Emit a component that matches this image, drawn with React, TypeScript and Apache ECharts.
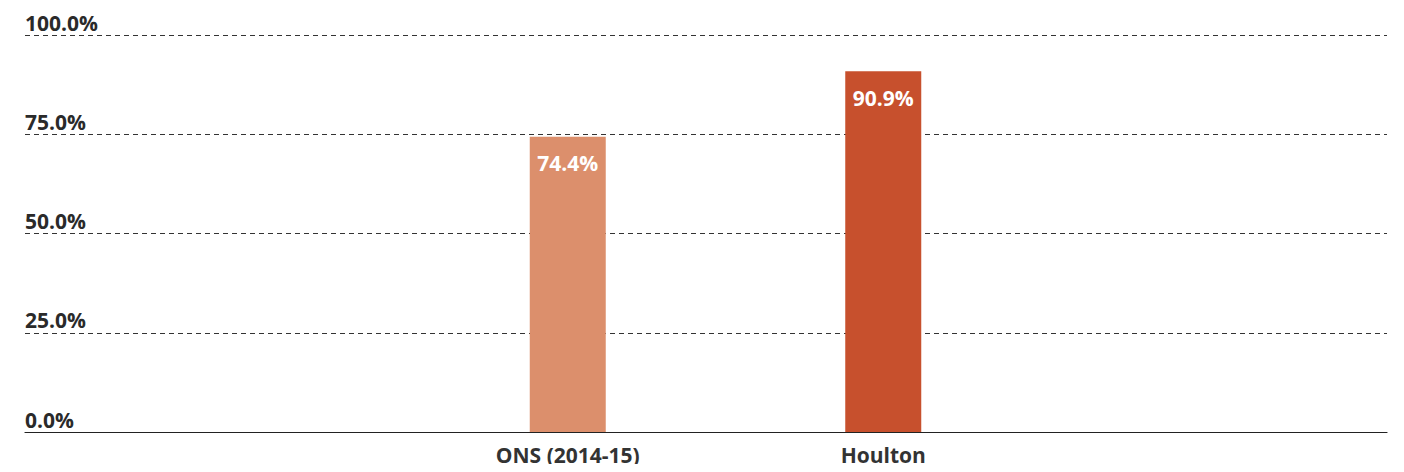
import React, { useEffect, useRef } from "react";
import * as echarts from "echarts";

const categories = ["ONS (2014-15)", "Houlton"];
const values = [74.4, 90.9];
const barColors = ["#DC8F6C", "#C7502D"];
const yTicks = [0, 25, 50, 75, 100];

const FONT = "'Open Sans', 'Noto Sans', sans-serif";

export default function App() {
  const ref = useRef<HTMLDivElement>(null);
  useEffect(() => {
    if (!ref.current) return;
    const chart = echarts.init(ref.current, undefined, { renderer: "svg" });
    chart.setOption({
      animation: false,
      grid: [
        { left: 25, right: 17, top: 35, bottom: 40 },
        { left: 410, right: 363, top: 35, bottom: 40 },
      ],
      xAxis: [
        {
          gridIndex: 0,
          type: "category",
          data: [""],
          axisLine: { show: true, lineStyle: { color: "#222", width: 1.2 } },
          axisTick: { show: false },
          axisLabel: { show: false },
        },
        {
          gridIndex: 1,
          type: "category",
          data: categories,
          axisLine: { show: false },
          axisTick: { show: false },
          axisLabel: {
            color: "#333",
            fontFamily: FONT,
            fontWeight: "bold",
            fontSize: 21,
            margin: 12,
          },
        },
      ],
      yAxis: [
        {
          gridIndex: 0,
          type: "value",
          min: yTicks[0],
          max: yTicks[yTicks.length - 1],
          interval: 25,
          axisLine: { show: false },
          axisTick: { show: false },
          axisLabel: {
            inside: true,
            margin: 0,
            align: "left",
            verticalAlign: "bottom",
            padding: [0, 0, 2, 0],
            color: "#2a2a2a",
            fontFamily: FONT,
            fontWeight: "bold",
            fontSize: 21,
            formatter: (v: number) => v.toFixed(1) + "%",
          },
          splitLine: {
            show: true,
            lineStyle: { color: "#333", type: [5, 4], width: 1 },
          },
        },
        {
          gridIndex: 1,
          type: "value",
          min: 0,
          max: 100,
          show: false,
          splitLine: { show: false },
        },
      ],
      series: [
        {
          type: "bar",
          xAxisIndex: 1,
          yAxisIndex: 1,
          barWidth: 76,
          data: values.map((v, i) => ({ value: v, itemStyle: { color: barColors[i] } })),
          label: {
            show: true,
            position: "insideTop",
            distance: 16,
            color: "#fff",
            fontFamily: FONT,
            fontWeight: "bold",
            fontSize: 21,
            formatter: (p: any) => p.value.toFixed(1) + "%",
          },
          z: 3,
        },
      ],
    });
    return () => chart.dispose();
  }, []);
  return <div ref={ref} style={{ width: 1404, height: 472, margin: -8 }} />;
}
